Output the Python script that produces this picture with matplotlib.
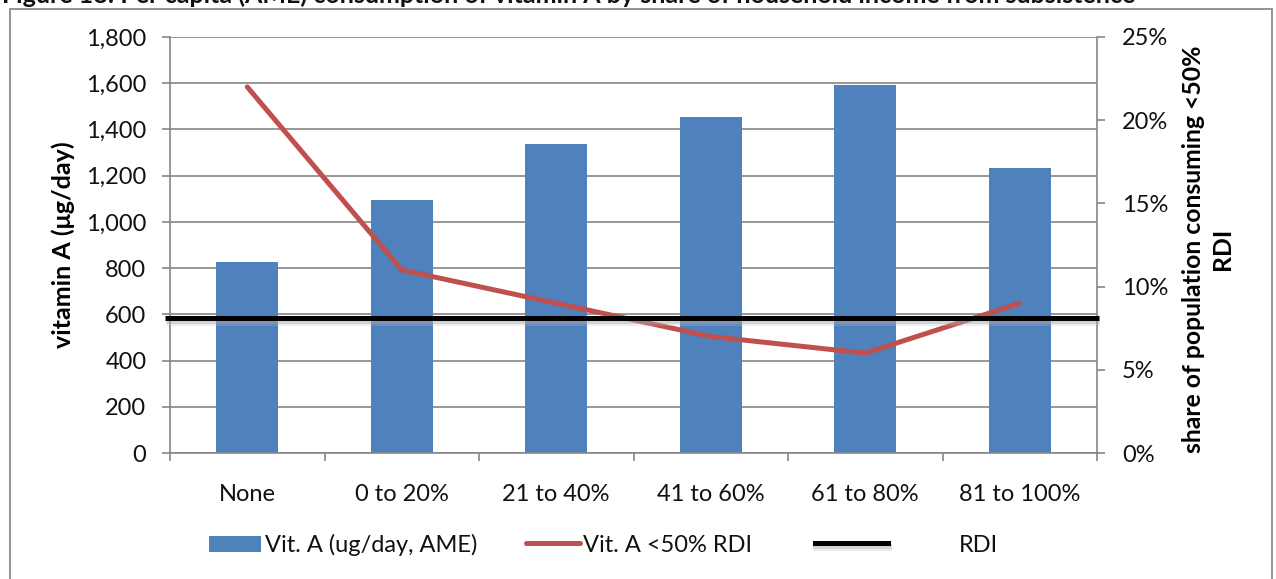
import matplotlib
matplotlib.use("Agg")
import matplotlib.pyplot as plt
import matplotlib.patheffects as pe
from matplotlib.patches import Rectangle, Patch
from matplotlib.lines import Line2D
from matplotlib.ticker import FuncFormatter, MultipleLocator, FixedLocator
import numpy as np

# ---- data ----
categories = ["None", "0 to 20%", "21 to 40%", "41 to 60%", "61 to 80%", "81 to 100%"]
vit_a_intake = [826, 1095, 1336, 1452, 1592, 1232]          # ug/day, AME
share_below_half_rdi = [0.22, 0.11, 0.09, 0.07, 0.06, 0.09]  # share of population
rdi_value = 583                                               # ug/day

title_text = ("Figure 18: Per capita (AME) consumption of vitamin A by share of "
              "household income from subsistence")

# ---- style ----
FONT = "Lato"
BAR = "#4F81BD"
RED = "#C0504D"
GRID = "#868686"
plt.rcParams["font.family"] = [FONT, "DejaVu Sans"]

W, H = 1276, 579
fig = plt.figure(figsize=(W / 100, H / 100), dpi=100)
fig.patch.set_facecolor("white")

left, right, top, bottom = 170, 1097, 37, 453
ax = fig.add_axes([left / W, 1 - bottom / H, (right - left) / W, (bottom - top) / H])
ax2 = ax.twinx()

x = np.arange(len(categories))
ax.bar(x, vit_a_intake, width=0.40, color=BAR, zorder=2)

ax.set_xlim(-0.5, len(categories) - 0.5)
ax.set_ylim(0, 1800)
ax.yaxis.set_major_locator(MultipleLocator(200))
ax.yaxis.set_major_formatter(FuncFormatter(lambda v, p: f"{int(v):,}"))
ax.grid(axis="y", color=GRID, lw=1.2, zorder=0)
ax.set_axisbelow(True)

# categories at centres, tick marks on the boundaries
ax.xaxis.set_major_locator(FixedLocator(x))
ax.set_xticklabels(categories)
ax.xaxis.set_minor_locator(FixedLocator(np.arange(len(categories) + 1) - 0.5))
ax.tick_params(axis="x", which="major", length=0, pad=22, labelsize=17, labelcolor="#111111")
ax.tick_params(axis="x", which="minor", length=6, width=1.2, color=GRID)
ax.tick_params(axis="y", length=6, width=1.2, color=GRID, pad=11, labelsize=17,
               labelcolor="#111111")

for s in ["top", "right"]:
    ax.spines[s].set_visible(False)
for s in ["left", "bottom"]:
    ax.spines[s].set_color(GRID)
    ax.spines[s].set_linewidth(1.2)

# secondary axis: share of population
ax2.plot(x, share_below_half_rdi, color=RED, lw=3.6, solid_capstyle="round",
         solid_joinstyle="miter", zorder=3)
ax2.set_ylim(0, 0.25)
ax2.yaxis.set_major_locator(MultipleLocator(0.05))
ax2.yaxis.set_major_formatter(FuncFormatter(lambda v, p: f"{v * 100:.0f}%"))
ax2.tick_params(axis="y", length=6, width=1.2, color=GRID, pad=12, labelsize=17,
                labelcolor="#111111")
for s in ["top", "left", "bottom"]:
    ax2.spines[s].set_visible(False)
ax2.spines["right"].set_color(GRID)
ax2.spines["right"].set_linewidth(1.2)

# RDI reference line, drawn on top in primary-axis units, with a soft shadow
shadow = [pe.SimpleLineShadow(offset=(0.3, -2.2), shadow_color="#9A9A9A", alpha=0.35),
          pe.SimpleLineShadow(offset=(0.3, -3.2), shadow_color="#BBBBBB", alpha=0.25),
          pe.Normal()]
x0, x1 = ax.get_xlim()
ax2.plot([x0 - 0.03, x1 + 0.01], [rdi_value, rdi_value], color="black", lw=3.6,
         transform=ax.transData, clip_on=False, zorder=4, solid_capstyle="butt",
         path_effects=shadow)

ax.set_ylabel("vitamin A (\u03bcg/day)", fontsize=18, fontweight="bold")
ax.yaxis.set_label_coords(-(170 - 75) / (right - left), 0.5)
ax2.set_ylabel("share of population consuming <50%\nRDI", fontsize=17.8,
               fontweight="bold", rotation=90, linespacing=1.3, va="center")
ax2.yaxis.set_label_coords((1208 - left) / (right - left), 0.49)

# legend: three entries laid out along one row
ly = 1 - 545 / H
fs = 17
entries = [
    (Patch(facecolor=BAR, edgecolor="none"), "Vit. A (ug/day, AME)", 209, 2.2, 0.17),
    (Line2D([], [], color=RED, lw=3.6, solid_capstyle="round"), "Vit. A <50% RDI", 526, 2.3, 0.13),
    (Line2D([], [], color="black", lw=3.6, path_effects=shadow), "RDI", 815, 3.1, 3.0),
]
for handle, label, px, hl, tp in entries:
    fig.legend([handle], [label], loc="center left",
               bbox_to_anchor=(px / W, ly), bbox_transform=fig.transFigure,
               frameon=False, borderpad=0, borderaxespad=0, handlelength=hl,
               handletextpad=tp, fontsize=fs, labelcolor="#111111")

# chart frame
fig.patches.append(Rectangle((10 / W, -0.1), (1272 - 10) / W, 1.1 - 9 / H,
                             transform=fig.transFigure, fill=False,
                             edgecolor="#8A8A8A", lw=1.3, clip_on=False))

# figure caption running off the top edge
fig.text(2 / W, 1 - 3 / H, title_text, fontsize=18, fontweight="bold",
         va="baseline", ha="left", color="#111111")

fig.savefig("out.png", dpi=100, facecolor="white")
